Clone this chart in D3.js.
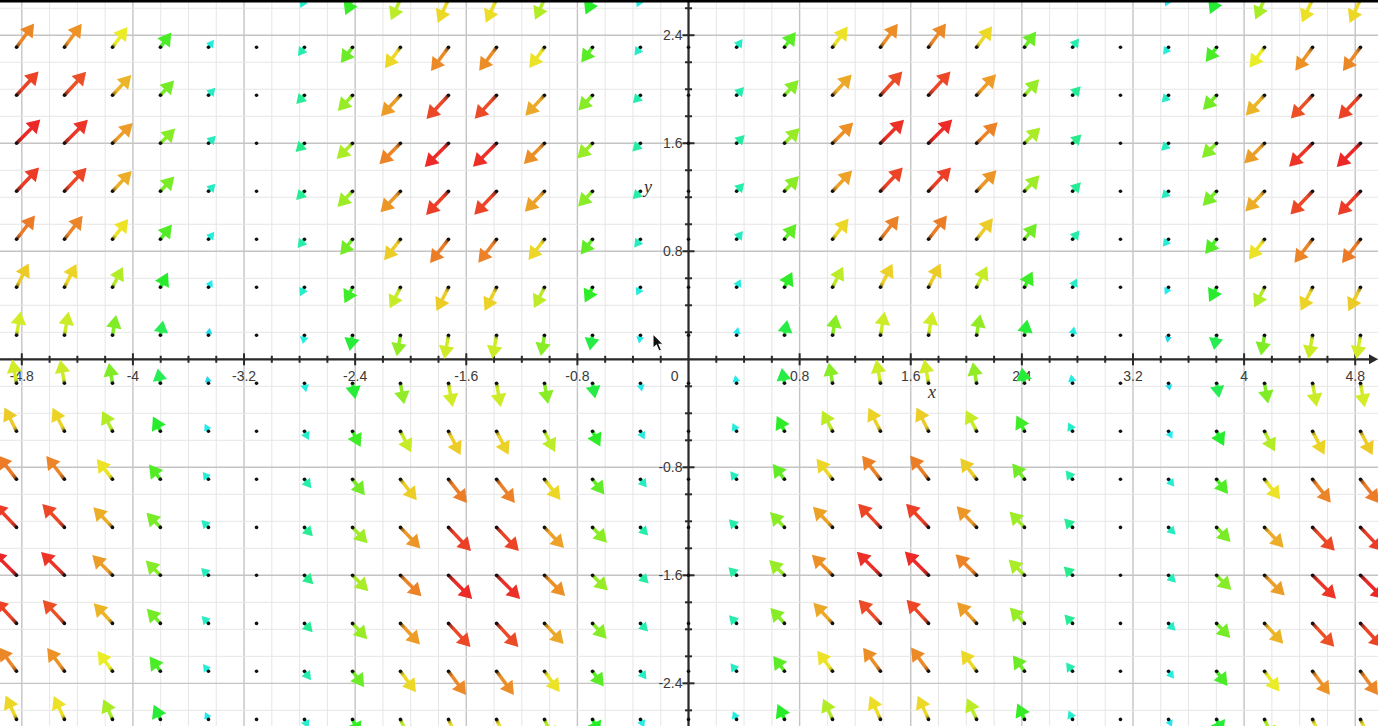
<!DOCTYPE html>
<html><head><meta charset="utf-8">
<script src="https://cdn.jsdelivr.net/npm/d3@7"></script>
<style>html,body{margin:0;padding:0;background:#fff;overflow:hidden}svg{display:block}</style>
</head><body>
<script>
// ---- data ----
// grid columns (x) and the x-dependent factor of the field at each column
const xCols = [-4.838,-4.493,-4.147,-3.802,-3.456,-3.110,-2.765,-2.419,-2.074,-1.728,-1.382,-1.037,-0.691,-0.346,0,
               0.346,0.691,1.037,1.382,1.728,2.074,2.419,2.765,3.110,3.456,3.802,4.147,4.493,4.838];
const colFactor = [0.992,0.976,0.844,0.614,0.309,-0.032,-0.368,-0.661,-0.876,-0.988,-0.982,-0.861,-0.637,-0.339,0,
               0.339,0.637,0.861,0.982,0.988,0.876,0.661,0.368,0.032,-0.309,-0.614,-0.844,-0.976,-0.992];
// grid rows (y) and the y-dependent factor of the horizontal component at each row
const yRows = [-2.667,-2.311,-1.956,-1.600,-1.245,-0.889,-0.533,-0.178,0.178,0.533,0.889,1.245,1.600,1.956,2.311,2.667];
const rowFactor = [-0.457,-0.738,-0.927,-1.000,-0.947,-0.776,-0.508,-0.177,0.177,0.508,0.776,0.947,1.000,0.927,0.738,0.457];
// tick labels
const xTickValues = [-4.8,-4,-3.2,-2.4,-1.6,-0.8,0.8,1.6,2.4,3.2,4,4.8];
const xTickLabels = ["-4.8","-4","-3.2","-2.4","-1.6","-0.8","0.8","1.6","2.4","3.2","4","4.8"];
const yTickValues = [2.4,1.6,0.8,-0.8,-1.6,-2.4];
const yTickLabels = ["2.4","1.6","0.8","-0.8","-1.6","-2.4"];

const W = 1378, H = 726;
const svg = d3.select("body").append("svg").attr("width", W).attr("height", H);
const defs = svg.append("defs");

const x = d3.scaleLinear().domain([-4.957, 4.964]).range([0, W]);
const y = d3.scaleLinear().domain([2.661, -2.716]).range([0, H]);
const lenScale = d3.scaleLinear().domain([0, 1]).range([0, 24]);
const hueScale = d3.scaleLinear().domain([0, 1.403]).range([240, 0]).clamp(true);

// ---- grid ----
const minorX = d3.range(-24, 25).map(d => d * 0.2);
const minorY = d3.range(-13, 14).map(d => d * 0.2);
const isMajor = v => Math.abs(v / 0.8 - Math.round(v / 0.8)) < 1e-6;
const g = svg.append("g");
g.selectAll("line.vx").data(minorX).join("line")
  .attr("x1", d => x(d)).attr("x2", d => x(d)).attr("y1", 0).attr("y2", H)
  .attr("stroke", d => isMajor(d) ? "#c4c4c4" : "#e6e6e6").attr("stroke-width", d => isMajor(d) ? 1.4 : 1);
g.selectAll("line.hy").data(minorY).join("line")
  .attr("y1", d => y(d)).attr("y2", d => y(d)).attr("x1", 0).attr("x2", W)
  .attr("stroke", d => isMajor(d) ? "#c4c4c4" : "#e6e6e6").attr("stroke-width", d => isMajor(d) ? 1.4 : 1);

// ---- axes ----
const ax = svg.append("g");
const x0 = x(0), y0 = y(0);
ax.append("line").attr("x1", 0).attr("x2", W - 6).attr("y1", y0).attr("y2", y0).attr("stroke", "#2a2a2a").attr("stroke-width", 2.2);
ax.append("line").attr("x1", x0).attr("x2", x0).attr("y1", 0).attr("y2", H).attr("stroke", "#2a2a2a").attr("stroke-width", 2.2);
ax.append("path").attr("d", `M${W},${y0} L${W - 9},${y0 - 5} L${W - 9},${y0 + 5} Z`).attr("fill", "#2a2a2a");
ax.selectAll("line.tx").data(minorX.filter(d => Math.abs(d) > 1e-6)).join("line")
  .attr("x1", d => x(d)).attr("x2", d => x(d))
  .attr("y1", d => y0 - (isMajor(d) ? 6 : 3.5)).attr("y2", d => y0 + (isMajor(d) ? 6 : 3.5))
  .attr("stroke", "#2a2a2a").attr("stroke-width", 2);
ax.selectAll("line.ty").data(minorY.filter(d => Math.abs(d) > 1e-6)).join("line")
  .attr("y1", d => y(d)).attr("y2", d => y(d))
  .attr("x1", d => x0 - (isMajor(d) ? 6 : 3.5)).attr("x2", d => x0 + (isMajor(d) ? 6 : 3.5))
  .attr("stroke", "#2a2a2a").attr("stroke-width", 2);

const lab = svg.append("g").attr("font-family", "'Liberation Sans', Arial, sans-serif").attr("font-size", 14).attr("fill", "#3a3a3a");
lab.selectAll("text.xl").data(xTickValues).join("text")
  .attr("x", d => x(d)).attr("y", y0 + 22).attr("text-anchor", "middle").text((d, i) => xTickLabels[i]);
lab.selectAll("text.yl").data(yTickValues).join("text")
  .attr("x", x0 - 6).attr("y", d => y(d) + 5).attr("text-anchor", "end").text((d, i) => yTickLabels[i]);
lab.append("text").attr("x", x0 - 10).attr("y", y0 + 22).attr("text-anchor", "end").text("0");
const axt = svg.append("g").attr("font-family", "'Liberation Serif', 'DejaVu Serif', serif").attr("font-style", "italic").attr("font-size", 18).attr("fill", "#333");
axt.append("text").attr("x", 932).attr("y", 398).attr("text-anchor", "middle").text("x");
axt.append("text").attr("x", 648).attr("y", 193).attr("text-anchor", "middle").text("y");

// ---- vector field ----
const vecs = [];
xCols.forEach((xc, i) => {
  yRows.forEach((yr, j) => {
    const u = colFactor[i] * rowFactor[j];
    const v = colFactor[i];
    vecs.push({ xc, yr, u, v, m: Math.hypot(u, v), id: i * 100 + j });
  });
});

const vg = svg.append("g");
vecs.forEach(d => {
  const px = x(d.xc), py = y(d.yr);
  const len = lenScale(d.m);
  if (len >= 2) {
    const ux = d.u / d.m, uy = -d.v / d.m;
    const tx = px + ux * len, ty = py + uy * len;
    const hl = Math.min(13, len * 0.8);
    const hw = hl * 0.6;
    const bx = tx - ux * hl, by = ty - uy * hl;
    const c = d3.hsl(hueScale(d.m), 0.84, 0.54);
    const col = c.formatHex();
    if (len - hl > 0.5) {
      const gid = "g" + d.id;
      const grad = defs.append("linearGradient").attr("id", gid).attr("gradientUnits", "userSpaceOnUse")
        .attr("x1", px).attr("y1", py).attr("x2", bx).attr("y2", by);
      grad.append("stop").attr("offset", 0).attr("stop-color", d3.hsl(c.h, 0.65, 0.28).formatHex());
      grad.append("stop").attr("offset", 0.4).attr("stop-color", col);
      vg.append("line").attr("x1", px).attr("y1", py).attr("x2", bx + ux * 1.5).attr("y2", by + uy * 1.5)
        .attr("stroke", `url(#${gid})`).attr("stroke-width", 3.5);
    }
    vg.append("path")
      .attr("d", `M${tx},${ty} L${bx - uy * hw},${by + ux * hw} L${bx + uy * hw},${by - ux * hw} Z`)
      .attr("fill", col);
  }
  vg.append("circle").attr("cx", px).attr("cy", py).attr("r", 1.8).attr("fill", "#111");
});

// ---- mouse pointer and top strip (from the screenshot) ----
svg.append("path").attr("transform", "translate(653,334) scale(0.85)")
  .attr("d", "M0,0 L0,17 L4,13 L7,20 L10,19 L7,12 L12,12 Z")
  .attr("fill", "#111").attr("stroke", "#fff").attr("stroke-width", 1.2);
svg.append("rect").attr("x", 0).attr("y", 0).attr("width", W).attr("height", 2.5).attr("fill", "#000");
</script>
</body></html>
